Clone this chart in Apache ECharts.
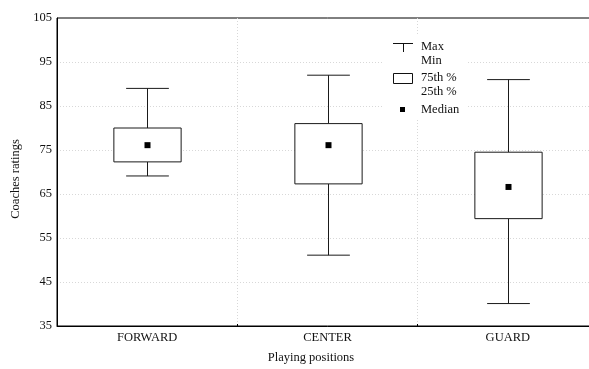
<!DOCTYPE html>
<html>
<head>
<meta charset="utf-8">
<script src="https://cdn.jsdelivr.net/npm/echarts@6/dist/echarts.min.js"></script>
<style>html,body{margin:0;padding:0;background:#fff;overflow:hidden;width:589px;height:369px}#c{width:599px;height:369px}</style>
</head>
<body>
<div id="c"></div>
<script>
const categories = ['FORWARD', 'CENTER', 'GUARD'];
const maxVals = [89, 92, 91];
const q3Vals = [80, 81, 74.5];
const medianVals = [76.1, 76.1, 66.6];
const q1Vals = [72.3, 67.3, 59.4];
const minVals = [69.1, 51.1, 40.1];
const yTicks = [35, 45, 55, 65, 75, 85, 95, 105];

const FONT = '"Liberation Serif", "DejaVu Serif", serif';
const FS = 12.5;
const chart = echarts.init(document.getElementById('c'), null, {renderer: 'canvas'});

const data = categories.map((c, i) => [i, minVals[i], q1Vals[i], medianVals[i], q3Vals[i], maxVals[i]]);

function renderItem(params, api) {
  const i = api.value(0);
  const band = api.size([1, 0])[0];
  const boxW = band * 0.373;
  const capW = band * 0.237;
  const pMin = api.coord([i, api.value(1)]);
  const pQ1 = api.coord([i, api.value(2)]);
  const pMed = api.coord([i, api.value(3)]);
  const pQ3 = api.coord([i, api.value(4)]);
  const pMax = api.coord([i, api.value(5)]);
  const x = Math.round(pMed[0]) + 0.5;
  const ln = {stroke: '#1a1a1a', lineWidth: 1};
  return {
    type: 'group',
    children: [
      {type: 'line', shape: {x1: x, y1: pMax[1], x2: x, y2: pQ3[1]}, style: ln},
      {type: 'line', shape: {x1: x, y1: pQ1[1], x2: x, y2: pMin[1]}, style: ln},
      {type: 'line', shape: {x1: x - capW / 2, y1: pMax[1], x2: x + capW / 2, y2: pMax[1]}, style: ln},
      {type: 'line', shape: {x1: x - capW / 2, y1: pMin[1], x2: x + capW / 2, y2: pMin[1]}, style: ln},
      {type: 'rect', shape: {x: x - boxW / 2, y: pQ3[1], width: boxW, height: pQ1[1] - pQ3[1]},
        style: {fill: '#fff', stroke: '#1a1a1a', lineWidth: 1}},
      {type: 'rect', shape: {x: x - 3, y: pMed[1] - 3, width: 6, height: 6}, style: {fill: '#000'}}
    ]
  };
}

const lgX = 393, lgText = 421;
const txt = (t, y) => ({type: 'text', left: lgText, top: y - 8,
  style: {text: t, font: FS + 'px ' + FONT, fill: '#111'}, z: 20});

chart.setOption({
  animation: false,
  grid: {left: 57, right: 1, top: 18, bottom: 40, show: true, borderColor: '#000', borderWidth: 1, backgroundColor: 'transparent'},
  xAxis: {
    type: 'category',
    data: categories,
    boundaryGap: true,
    name: 'Playing positions',
    nameLocation: 'middle',
    nameGap: 25,
    nameTextStyle: {fontFamily: FONT, fontSize: FS, color: '#111', padding: [0, 33, 0, 0]},
    axisLine: {lineStyle: {color: '#000', width: 1}},
    axisTick: {show: true, inside: true, length: 2, lineStyle: {color: '#000'}},
    axisLabel: {fontFamily: FONT, fontSize: FS, color: '#111', margin: 5},
    splitLine: {show: true, showMinLine: false, showMaxLine: false, lineStyle: {color: '#d8d8d8', type: [1, 2]}}
  },
  yAxis: {
    type: 'value',
    min: 35, max: 105, interval: 10,
    name: 'Coaches ratings',
    nameLocation: 'middle',
    nameGap: 34,
    nameTextStyle: {fontFamily: FONT, fontSize: FS, color: '#111', padding: [0, 14, 0, 0]},
    axisLine: {show: true, lineStyle: {color: '#000', width: 1}},
    axisTick: {show: false},
    axisLabel: {fontFamily: FONT, fontSize: FS, color: '#111', margin: 5,
      formatter: v => yTicks.includes(v) ? String(v) : ''},
    splitLine: {show: true, showMinLine: false, showMaxLine: false, lineStyle: {color: '#d8d8d8', type: [1, 2]}}
  },
  series: [{
    type: 'custom',
    renderItem: renderItem,
    encode: {x: 0, y: [1, 2, 3, 4, 5]},
    data: data,
    z: 5
  }],
  graphic: [
    {type: 'rect', shape: {x: 384, y: 36, width: 82, height: 84}, style: {fill: '#fff'}, z: 15},
    {type: 'line', shape: {x1: lgX, y1: 43.5, x2: lgX + 20, y2: 43.5}, style: {stroke: '#111', lineWidth: 1}, z: 20},
    {type: 'line', shape: {x1: lgX + 10.5, y1: 43.5, x2: lgX + 10.5, y2: 52}, style: {stroke: '#111', lineWidth: 1}, z: 20},
    txt('Max', 48),
    txt('Min', 62),
    {type: 'rect', shape: {x: lgX + 0.5, y: 73.5, width: 19, height: 10}, style: {fill: '#fff', stroke: '#111', lineWidth: 1}, z: 20},
    txt('75th %', 79),
    txt('25th %', 93),
    {type: 'rect', shape: {x: 400, y: 107, width: 5, height: 5}, style: {fill: '#000'}, z: 20},
    txt('Median', 111)
  ]
});
</script>
</body>
</html>
